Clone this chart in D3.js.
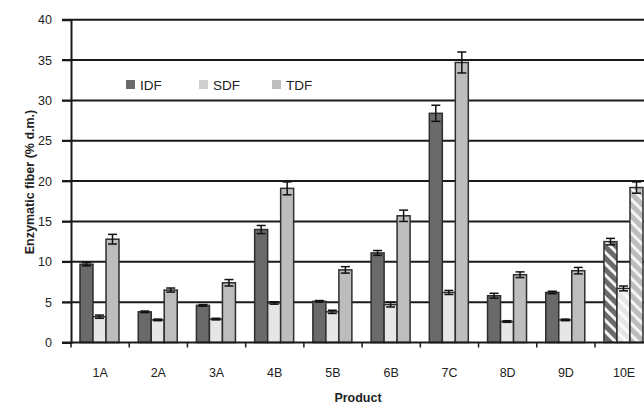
<!DOCTYPE html>
<html>
<head>
<meta charset="utf-8">
<script src="https://cdn.jsdelivr.net/npm/d3@7"></script>
<style>
  html, body { margin: 0; padding: 0; background: #fff; }
  svg { display: block; font-family: "Liberation Sans", Arial, sans-serif; }
</style>
</head>
<body>
<svg id="chart" width="644" height="408"></svg>
<script>
// Fibre fractions per product (% dry matter), with error bar half-widths
const categories = ["1A", "2A", "3A", "4B", "5B", "6B", "7C", "8D", "9D", "10E"];
const seriesNames = ["IDF", "SDF", "TDF"];
const idf    = [9.7, 3.8, 4.6, 14.0, 5.1, 11.1, 28.4, 5.8, 6.2, 12.5];
const idfErr = [0.2, 0.1, 0.1, 0.5, 0.1, 0.3, 1.0, 0.3, 0.15, 0.4];
const sdf    = [3.2, 2.8, 2.9, 4.9, 3.8, 4.7, 6.2, 2.6, 2.8, 6.7];
const sdfErr = [0.2, 0.1, 0.1, 0.15, 0.2, 0.3, 0.25, 0.1, 0.1, 0.3];
const tdf    = [12.8, 6.5, 7.4, 19.1, 9.0, 15.7, 34.7, 8.4, 8.9, 19.2];
const tdfErr = [0.6, 0.25, 0.4, 0.8, 0.4, 0.7, 1.3, 0.35, 0.4, 0.7];
const yTicks = [0, 5, 10, 15, 20, 25, 30, 35, 40];
const hatchedCategory = "10E";

const values = { IDF: idf, SDF: sdf, TDF: tdf };
const errors = { IDF: idfErr, SDF: sdfErr, TDF: tdfErr };
const fills  = { IDF: "#6a6a6a", SDF: "#e6e6e6", TDF: "#bdbdbd" };
const legendFills = { IDF: "#6a6a6a", SDF: "#cfcfcf", TDF: "#bdbdbd" };

const W = 644;
const left = 71, bandW = 58.22;
const svg = d3.select("#chart");

const x = d3.scaleBand().domain(categories).range([left, left + bandW * categories.length]);
const xi = d3.scaleBand().domain(seriesNames).range([9, 48]);
const y = d3.scaleLinear().domain([0, 40]).range([342.5, 19.7]);

// diagonal hatch patterns for the last product
const defs = svg.append("defs");
seriesNames.forEach(s => {
  const p = defs.append("pattern")
    .attr("id", "hatch-" + s)
    .attr("patternUnits", "userSpaceOnUse")
    .attr("width", 8).attr("height", 8)
    .attr("patternTransform", "rotate(-45)");
  p.append("rect").attr("width", 8).attr("height", 8).attr("fill", fills[s]);
  p.append("rect").attr("width", 3).attr("height", 8)
    .attr("fill", s === "SDF" ? "#fafafa" : "#f4f4f4");
});

// horizontal grid lines
svg.append("g")
  .selectAll("line")
  .data(yTicks.filter(t => t > 0))
  .join("line")
  .attr("x1", 62).attr("x2", W)
  .attr("y1", d => y(d)).attr("y2", d => y(d))
  .attr("stroke", "#1a1a1a").attr("stroke-width", 2);

// y axis
const yAxis = svg.append("g")
  .attr("transform", `translate(${left},0)`)
  .call(d3.axisLeft(y).tickValues(yTicks).tickSize(9).tickPadding(10));
yAxis.select(".domain").attr("stroke", "#1a1a1a").attr("stroke-width", 2);
yAxis.selectAll(".tick line").attr("stroke", "#1a1a1a").attr("stroke-width", 1.5);
yAxis.selectAll(".tick text").attr("font-size", 12.5).attr("fill", "#222")
  .attr("font-family", "Liberation Sans, Arial, sans-serif");

// bars
const flat = [];
categories.forEach((c, i) => seriesNames.forEach(s => {
  flat.push({ c, s, v: values[s][i], e: errors[s][i] });
}));

const barG = svg.append("g");
barG.selectAll("rect")
  .data(flat)
  .join("rect")
  .attr("x", d => x(d.c) + xi(d.s))
  .attr("width", xi.bandwidth())
  .attr("y", d => y(d.v))
  .attr("height", d => y(0) - y(d.v))
  .attr("fill", d => d.c === hatchedCategory ? `url(#hatch-${d.s})` : fills[d.s])
  .attr("stroke", "#2e2e2e").attr("stroke-width", 1.5);

// error bars
const errG = svg.append("g").attr("stroke", "#111").attr("stroke-width", 1.5);
flat.forEach(d => {
  const cx = x(d.c) + xi(d.s) + xi.bandwidth() / 2;
  const y1 = y(d.v + d.e), y2 = y(d.v - d.e);
  errG.append("line").attr("x1", cx).attr("x2", cx).attr("y1", y1).attr("y2", y2);
  errG.append("line").attr("x1", cx - 4.5).attr("x2", cx + 4.5).attr("y1", y1).attr("y2", y1);
  errG.append("line").attr("x1", cx - 4.5).attr("x2", cx + 4.5).attr("y1", y2).attr("y2", y2);
});

// x axis: baseline, boundary ticks and centred labels
svg.append("line")
  .attr("x1", 62).attr("x2", W)
  .attr("y1", y(0)).attr("y2", y(0))
  .attr("stroke", "#1a1a1a").attr("stroke-width", 2);
svg.append("g")
  .selectAll("line")
  .data(categories)
  .join("line")
  .attr("x1", d => x(d)).attr("x2", d => x(d))
  .attr("y1", y(0)).attr("y2", y(0) + 5)
  .attr("stroke", "#1a1a1a").attr("stroke-width", 1.5);
svg.append("g")
  .selectAll("text")
  .data(categories)
  .join("text")
  .attr("x", d => x(d) + x.bandwidth() / 2)
  .attr("y", 377)
  .attr("text-anchor", "middle")
  .attr("font-size", 12.5).attr("fill", "#222")
  .text(d => d);

// axis titles
svg.append("text")
  .attr("x", 358).attr("y", 402)
  .attr("text-anchor", "middle")
  .attr("font-size", 12.5).attr("font-weight", "bold").attr("fill", "#222")
  .text("Product");
svg.append("text")
  .attr("transform", "translate(34,182) rotate(-90)")
  .attr("text-anchor", "middle")
  .attr("font-size", 12.5).attr("font-weight", "bold").attr("fill", "#222")
  .text("Enzymatic fiber (% d.m.)");

// legend
const legend = svg.append("g")
  .selectAll("g")
  .data(seriesNames)
  .join("g")
  .attr("transform", (d, i) => `translate(${126 + i * 73},80)`);
legend.append("rect").attr("width", 9).attr("height", 9).attr("fill", d => legendFills[d]);
legend.append("text")
  .attr("x", 14).attr("y", 9.5)
  .attr("font-size", 13.5).attr("fill", "#222")
  .text(d => d);
</script>
</body>
</html>
